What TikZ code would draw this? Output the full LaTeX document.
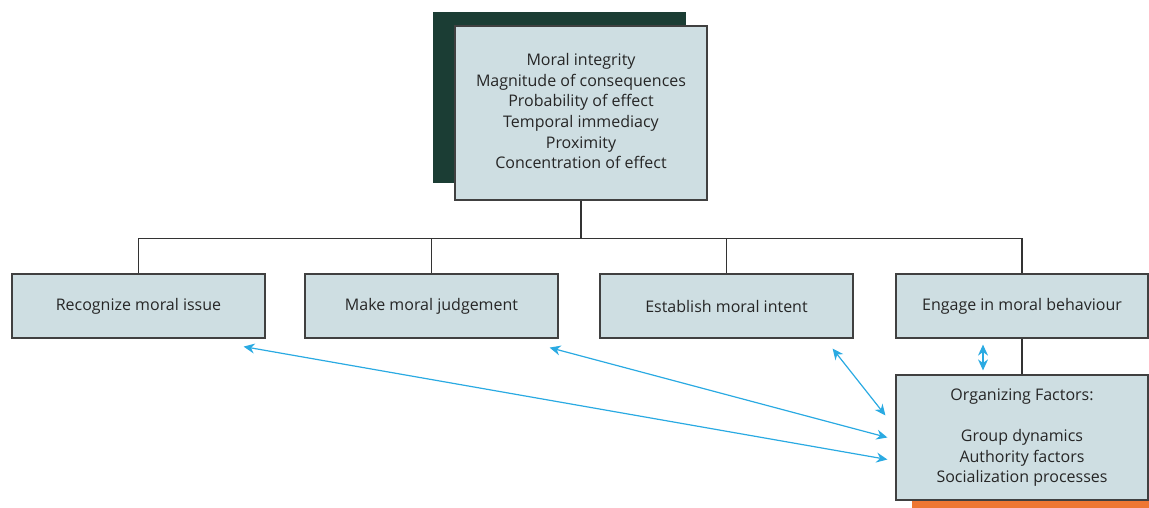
\documentclass[tikz,border=0pt]{standalone}
\usepackage{fontspec}
\setmainfont{Open Sans}
\usetikzlibrary{arrows.meta,calc}
\definecolor{boxfill}{HTML}{CEDEE2}
\definecolor{boxline}{HTML}{404040}
\definecolor{darkgreen}{HTML}{1B3D34}
\definecolor{arrowblue}{HTML}{2AAAE2}
\definecolor{barorange}{HTML}{EE7733}
\definecolor{txt}{HTML}{262626}
\tikzset{
  box/.style={draw=boxline, line width=1.2pt, fill=boxfill, text=txt, align=center,
    font=\fontsize{16}{20.6}\selectfont, inner sep=0pt},
  tree/.style={draw=black!80, line width=1.1pt},
  link/.style={draw=arrowblue, line width=1.2pt},
  tips/.style={{Stealth[length=11pt,width=10pt]}-{Stealth[length=11pt,width=10pt]}}
}
\begin{document}
\begin{tikzpicture}[x=1pt,y=-1pt]
\useasboundingbox (0,0) rectangle (1149,508);
\fill[darkgreen] (433,12) rectangle (686,183);
\fill[barorange] (912,498) rectangle (1149,508);
\node[box, minimum width=252pt, minimum height=174pt] (top) at (581,113)
  {\raisebox{3pt}{\begin{tabular}{@{}c@{}}Moral integrity\\Magnitude of consequences\\Probability of effect\\Temporal immediacy\\Proximity\\Concentration of effect\end{tabular}}};
\node[box, minimum width=253pt, minimum height=64pt] (b1) at (138.5,306) {Recognize moral issue};
\node[box, minimum width=253pt, minimum height=64pt] (b2) at (431.5,306) {Make moral judgement};
\node[box, minimum width=253pt, minimum height=64pt] (b3) at (726.5,306) {Establish moral intent};
\node[box, minimum width=252pt, minimum height=64pt] (b4) at (1022,306) {Engage in moral behaviour};
\node[box, minimum width=252pt, minimum height=125pt] (b5) at (1022,437.5)
  {Organizing Factors:\\[20.6pt]Group dynamics\\Authority factors\\Socialization processes};
\coordinate (hub) at ($(top.south)+(0,38)$);
\draw[tree] (top.south) -- (hub);
\draw[tree] (hub) -| (b1.north);
\draw[tree] (hub) -| (b2.north);
\draw[tree] (hub) -| (b3.north);
\draw[tree] (hub) -| (b4.north);
\draw[tree] (b4.south) -- (b5.north);
\draw[link,tips] ($(b5.west)+(-8,22)$) -- ($(b1.south east)+(-22,8)$);
\draw[link,tips] ($(b5.west)+(-8,0)$) -- ($(b2.south east)+(-9,9)$);
\draw[link,tips] ($(b3.south east)+(-21,10)$) -- ($(b5.north west)+(-10,41)$);
\draw[link,tips,line width=1.4pt] ($(b4.south)+(-39,6)$) -- ($(b5.north)+(-39,-4)$);
\end{tikzpicture}
\end{document}
